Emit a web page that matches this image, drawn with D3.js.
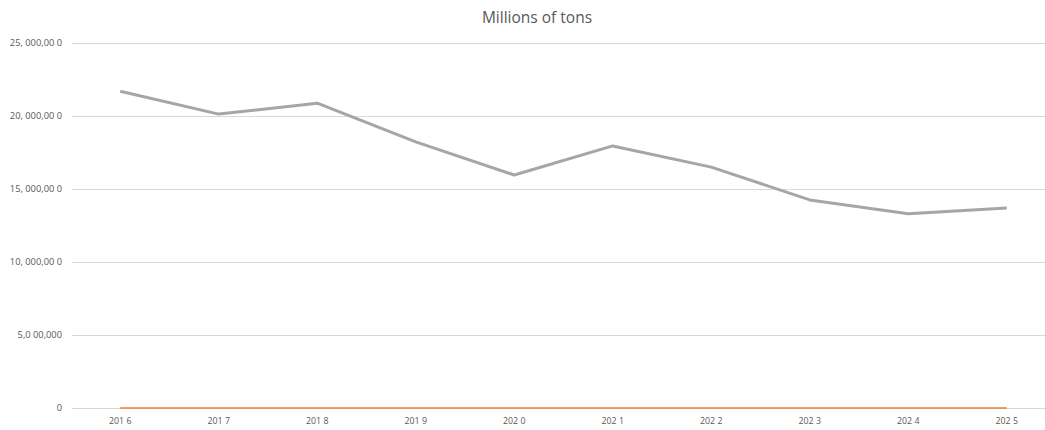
<!DOCTYPE html>
<html><head><meta charset="utf-8">
<script src="https://cdn.jsdelivr.net/npm/d3@7"></script>
<style>body{margin:0;background:#fff}svg{display:block;font-family:"Open Sans",sans-serif}</style>
</head><body><svg id="c" width="1045" height="430"></svg>
<script>
const years = ["201 6","201 7","201 8","201 9","202 0","202 1","202 2","202 3","202 4","202 5"];
const tons = [21700000,20130000,20880000,18230000,15960000,17950000,16500000,14250000,13300000,13700000];
const zeros = [0,0,0,0,0,0,0,0,0,0];
const yTicks = [0,5000000,10000000,15000000,20000000,25000000];
const yTickLabels = ["0","5,0 00,000","10, 000,00 0","15, 000,00 0","20, 000,00 0","25, 000,00 0"];
const title = "Millions of tons";

const svg = d3.select("#c");
const x = d3.scaleBand().domain(years).range([71,1056]);
const y = d3.scaleLinear().domain([0,25000000]).range([408,43]);

svg.append("text").attr("x",537).attr("y",23).attr("text-anchor","middle")
  .attr("font-size",15.5).attr("fill","#595959").text(title);

const yAxis = d3.axisLeft(y).tickValues(yTicks).tickSize(0)
  .tickFormat((d,i)=>yTickLabels[i]);
const gy = svg.append("g").attr("transform","translate(72,0)").call(yAxis);
gy.select(".domain").remove();
gy.selectAll("text").attr("x",-10).attr("font-size",9.3).attr("fill","#595959").attr("font-family","Open Sans");

svg.append("g").selectAll("line").data(yTicks).join("line")
  .attr("x1",72).attr("x2",1045).attr("y1",d=>Math.round(y(d))+0.5).attr("y2",d=>Math.round(y(d))+0.5)
  .attr("stroke","#d9d9d9").attr("stroke-width",1);

const xAxis = d3.axisBottom(x).tickSize(0);
const gx = svg.append("g").attr("transform","translate(0,408)").call(xAxis);
gx.select(".domain").remove();
gx.selectAll("text").attr("dy",0).attr("y",16).attr("font-size",8.8).attr("fill","#595959").attr("font-family","Open Sans");

const line = d3.line().x((d,i)=>x(years[i])+x.bandwidth()/2).y(d=>y(d));
svg.append("path").datum(zeros).attr("d",line).attr("fill","none")
  .attr("stroke","#ED7D31").attr("stroke-width",1.3);
svg.append("path").datum(tons).attr("d",line).attr("fill","none")
  .attr("stroke","#a3a6aa").attr("stroke-width",3).attr("stroke-linejoin","round");
</script></body></html>
